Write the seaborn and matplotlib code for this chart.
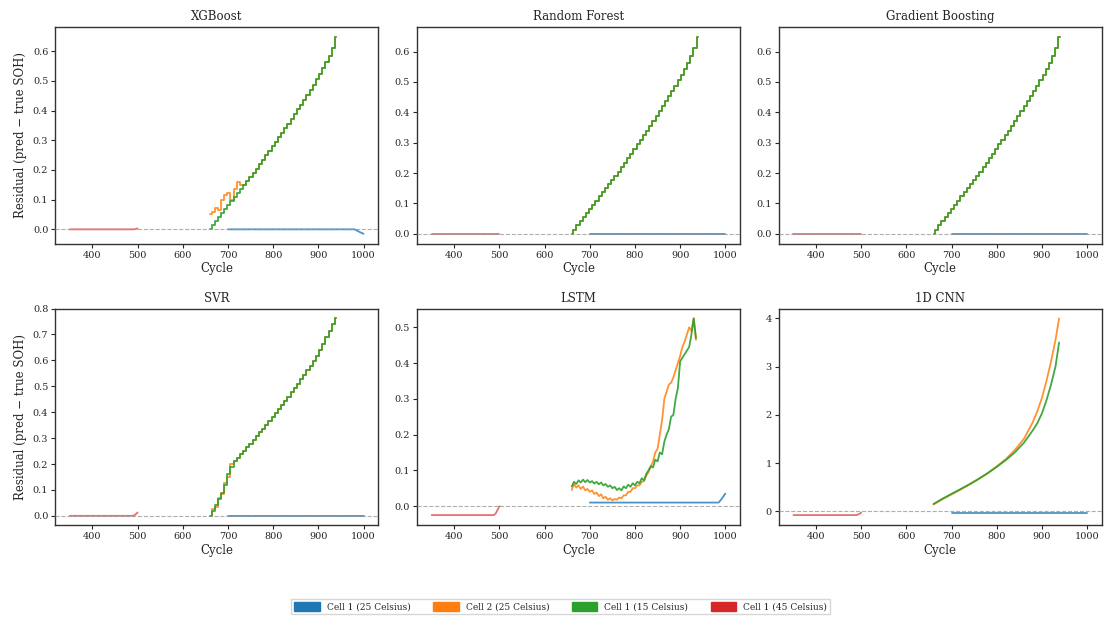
import numpy as np
import pandas as pd
import matplotlib
matplotlib.use("Agg")
import matplotlib.pyplot as plt
from matplotlib.patches import Patch
import seaborn as sns

# ---------------- data ----------------
series_names = ["Cell 1 (25 Celsius)", "Cell 2 (25 Celsius)",
                "Cell 1 (15 Celsius)", "Cell 1 (45 Celsius)"]
series_colors = ["#1f77b4", "#ff7f0e", "#2ca02c", "#d62728"]
model_names = ["XGBoost", "Random Forest", "Gradient Boosting", "SVR", "LSTM", "1D CNN"]

# step knots for the 15/25 C cells of the tree models
step_cycles = [660, 667, 674, 681, 688, 695, 702, 709, 716, 723, 730, 737, 744, 751,
               758, 765, 772, 779, 786, 793, 800, 807, 814, 821, 828, 835, 842, 849,
               856, 863, 870, 877, 884, 891, 898, 905, 912, 919, 926, 933, 940]

tree_cell1_15 = [0.000, 0.014, 0.028, 0.042, 0.056, 0.069, 0.083, 0.096, 0.109, 0.123,
                 0.137, 0.150, 0.163, 0.177, 0.191, 0.205, 0.220, 0.234, 0.249, 0.264,
                 0.280, 0.295, 0.310, 0.325, 0.340, 0.356, 0.372, 0.388, 0.404, 0.420,
                 0.437, 0.454, 0.471, 0.488, 0.506, 0.524, 0.543, 0.563, 0.584, 0.612,
                 0.648]
xgb_cell2_25 = [0.050, 0.060, 0.072, 0.065, 0.100, 0.115, 0.122, 0.100, 0.135, 0.158,
                0.150, 0.150, 0.163, 0.177, 0.191, 0.205, 0.220, 0.234, 0.249, 0.264,
                0.280, 0.295, 0.310, 0.325, 0.340, 0.356, 0.372, 0.388, 0.404, 0.420,
                0.437, 0.454, 0.471, 0.488, 0.506, 0.524, 0.543, 0.563, 0.584, 0.612,
                0.648]

svr_cell1_15 = [0.000, 0.020, 0.040, 0.065, 0.090, 0.120, 0.160, 0.190, 0.210, 0.224,
                0.237, 0.251, 0.265, 0.279, 0.293, 0.308, 0.322, 0.337, 0.352, 0.367,
                0.382, 0.397, 0.413, 0.428, 0.444, 0.460, 0.476, 0.493, 0.510, 0.527,
                0.544, 0.561, 0.579, 0.597, 0.615, 0.640, 0.665, 0.690, 0.715, 0.740,
                0.765]
svr_cell2_25 = [0.000, 0.025, 0.035, 0.070, 0.085, 0.125, 0.150, 0.200, 0.210, 0.224,
                0.237, 0.251, 0.265, 0.279, 0.293, 0.308, 0.322, 0.337, 0.352, 0.367,
                0.382, 0.397, 0.413, 0.428, 0.444, 0.460, 0.476, 0.493, 0.510, 0.527,
                0.544, 0.561, 0.579, 0.597, 0.615, 0.640, 0.665, 0.690, 0.715, 0.740,
                0.765]

# 25 C cell 1 (cycles 700-1000) and 45 C cell (cycles 350-500)
blue_cycles = [700, 980, 990, 1000]
red_cycles = [350, 490, 495, 500]
xgb_blue = [0.0, 0.0, -0.008, -0.015]
flat_blue = [0.0, 0.0, 0.0, 0.0]
xgb_red = [0.0, 0.0, 0.001, 0.003]
flat_red = [0.0, 0.0, 0.0, 0.0]
svr_red = [0.0, 0.0, 0.005, 0.013]

# LSTM
lstm_cycles = [660, 665, 670, 675, 680, 685, 690, 695, 700, 705, 710, 715, 720, 725,
               730, 735, 740, 745, 750, 755, 760, 765, 770, 775, 780, 785, 790, 795,
               800, 805, 810, 815, 820, 825, 830, 835, 840, 845, 850, 855, 860, 865,
               870, 875, 880, 885, 890, 895, 900, 905, 910, 915, 920, 925, 930, 935]
lstm_cell1_15 = [0.055, 0.068, 0.062, 0.072, 0.066, 0.074, 0.067, 0.073, 0.066, 0.070,
                 0.063, 0.068, 0.061, 0.066, 0.058, 0.062, 0.054, 0.058, 0.050, 0.054,
                 0.045, 0.050, 0.044, 0.055, 0.050, 0.060, 0.054, 0.064, 0.058, 0.068,
                 0.064, 0.078, 0.072, 0.090, 0.100, 0.112, 0.108, 0.130, 0.125, 0.150,
                 0.145, 0.180, 0.200, 0.215, 0.250, 0.255, 0.300, 0.330, 0.405, 0.415,
                 0.425, 0.435, 0.445, 0.480, 0.525, 0.470]
lstm_cell2_25 = [0.045, 0.062, 0.052, 0.058, 0.048, 0.055, 0.044, 0.048, 0.040, 0.044,
                 0.034, 0.038, 0.028, 0.033, 0.022, 0.026, 0.018, 0.022, 0.016, 0.020,
                 0.018, 0.024, 0.022, 0.030, 0.030, 0.040, 0.040, 0.050, 0.050, 0.058,
                 0.058, 0.068, 0.070, 0.085, 0.095, 0.110, 0.125, 0.150, 0.160, 0.200,
                 0.240, 0.300, 0.320, 0.340, 0.345, 0.360, 0.380, 0.400, 0.420, 0.445,
                 0.460, 0.480, 0.500, 0.490, 0.525, 0.465]
lstm_blue_cycles = [700, 985, 990, 995, 1000]
lstm_blue = [0.010, 0.010, 0.017, 0.026, 0.035]
lstm_red_cycles = [350, 488, 492, 496, 500]
lstm_red = [-0.025, -0.025, -0.020, -0.010, 0.000]

# 1D CNN
cnn_cycles = [660, 680, 700, 720, 740, 760, 780, 800, 820, 840, 860, 880, 890, 900,
              910, 920, 930, 938]
cnn_cell1_15 = [0.15, 0.26, 0.36, 0.46, 0.56, 0.67, 0.79, 0.92, 1.06, 1.22, 1.42,
                1.68, 1.83, 2.03, 2.30, 2.62, 3.00, 3.50]
cnn_cell2_25 = [0.14, 0.25, 0.35, 0.45, 0.56, 0.67, 0.79, 0.93, 1.08, 1.27, 1.50,
                1.85, 2.08, 2.35, 2.70, 3.10, 3.55, 4.00]
cnn_blue = [-0.03, -0.03, -0.03, -0.03]
cnn_red = [-0.08, -0.08, -0.06, -0.03]

panels = {
    "XGBoost": dict(c15=(step_cycles, tree_cell1_15), c2=(step_cycles, xgb_cell2_25),
                    blue=(blue_cycles, xgb_blue), red=(red_cycles, xgb_red), steps=True),
    "Random Forest": dict(c15=(step_cycles, tree_cell1_15), c2=(step_cycles, tree_cell1_15),
                          blue=(blue_cycles, flat_blue), red=(red_cycles, flat_red), steps=True),
    "Gradient Boosting": dict(c15=(step_cycles, tree_cell1_15), c2=(step_cycles, tree_cell1_15),
                              blue=(blue_cycles, flat_blue), red=(red_cycles, flat_red), steps=True),
    "SVR": dict(c15=(step_cycles, svr_cell1_15), c2=(step_cycles, svr_cell2_25),
                blue=(blue_cycles, flat_blue), red=(red_cycles, svr_red), steps=True),
    "LSTM": dict(c15=(lstm_cycles, lstm_cell1_15), c2=(lstm_cycles, lstm_cell2_25),
                 blue=(lstm_blue_cycles, lstm_blue), red=(lstm_red_cycles, lstm_red), steps=False),
    "1D CNN": dict(c15=(cnn_cycles, cnn_cell1_15), c2=(cnn_cycles, cnn_cell2_25),
                   blue=(blue_cycles, cnn_blue), red=(red_cycles, cnn_red), steps=False),
}

# ---------------- figure ----------------
sns.set_theme(style="ticks")
plt.rcParams["font.family"] = ["DejaVu Serif"]
plt.rcParams["axes.edgecolor"] = "#333333"
plt.rcParams["axes.linewidth"] = 1.0

fig, axes = plt.subplots(2, 3, figsize=(11.04, 6.19), dpi=100)
fig.subplots_adjust(left=0.050, right=0.998, top=0.956, bottom=0.152,
                    wspace=0.12, hspace=0.30)

for ax, name in zip(axes.flat, model_names):
    p = panels[name]
    order = [("blue", 0, 0.8), ("red", 3, 0.65), ("c2", 1, 0.85), ("c15", 2, 0.9)]
    for key, idx, alpha in order:
        xs, ys = p[key]
        df = pd.DataFrame({"Cycle": xs, "res": ys})
        kw = {}
        if p["steps"] and key in ("c15", "c2"):
            kw["drawstyle"] = "steps-mid"
        sns.lineplot(data=df, x="Cycle", y="res", ax=ax, color=series_colors[idx],
                     lw=1.3, alpha=alpha, estimator=None, sort=False, **kw)
    # zero reference drawn over the series
    ax.axhline(0, color="#9a9a9a", ls="--", lw=0.8, alpha=0.8, zorder=5)
    ax.set_xlim(317.5, 1032.5)
    ax.set_xticks([400, 500, 600, 700, 800, 900, 1000])
    ax.set_title(name, fontsize=8.5, pad=5)
    ax.set_xlabel("Cycle", fontsize=8.5, labelpad=2)
    ax.set_ylabel("Residual (pred \u2212 true SOH)" if name in ("XGBoost", "SVR") else "",
                  fontsize=8.5, labelpad=4)
    ax.tick_params(labelsize=7, length=3, width=0.8, pad=2)
    for s in ax.spines.values():
        s.set_visible(True)

axes[1, 0].set_ylim(-0.035, 0.8)
axes[1, 1].set_yticks([0.0, 0.1, 0.2, 0.3, 0.4, 0.5])
axes[1, 2].set_yticks([0, 1, 2, 3, 4])

handles = [Patch(facecolor=c, edgecolor=c, label=n)
           for c, n in zip(series_colors, series_names)]
fig.legend(handles=handles, loc="lower center", ncol=4, fontsize=6.5,
           bbox_to_anchor=(0.508, 0.0), frameon=True, fancybox=False,
           handlelength=2.8, handleheight=1.1, columnspacing=2.5,
           edgecolor="#cccccc", borderpad=0.35)

fig.savefig("out.png", dpi=100)
